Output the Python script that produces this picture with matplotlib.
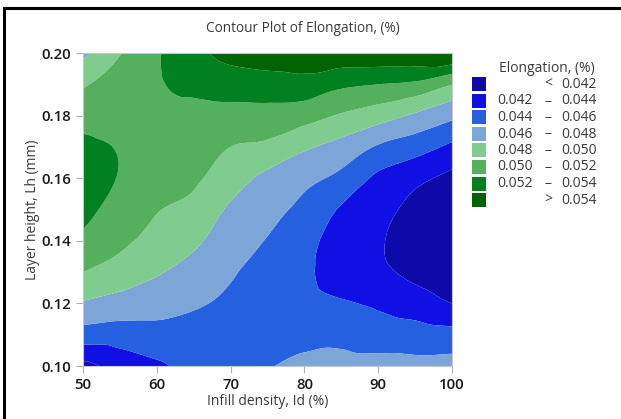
import numpy as np
import matplotlib
matplotlib.use("Agg")
import matplotlib.pyplot as plt
import matplotlib.tri as mtri
from matplotlib.patches import Rectangle

plt.rcParams['font.family'] = ['Open Sans', 'DejaVu Sans']

# Grid of infill density (%) and layer height (mm)
infill = [50, 55, 60, 65, 70, 75, 80, 85, 90, 95, 100]
layer = [0.10, 0.11, 0.12, 0.13, 0.14, 0.15, 0.16, 0.17, 0.18, 0.19, 0.20]

# Elongation (%) per infill column, listed from layer 0.10 up to 0.20
elong_50 = [0.0415, 0.0451, 0.0478, 0.0500, 0.0516, 0.0525, 0.0528, 0.0524, 0.0513, 0.0498, 0.0475]
elong_55 = [0.0428, 0.0450, 0.0472, 0.0492, 0.0504, 0.0513, 0.0519, 0.0519, 0.0512, 0.0507, 0.0499]
elong_60 = [0.0437, 0.0453, 0.0468, 0.0482, 0.0494, 0.0501, 0.0508, 0.0513, 0.0516, 0.0518, 0.0518]
elong_65 = [0.0446, 0.0454, 0.0462, 0.0472, 0.0484, 0.0495, 0.0503, 0.0511, 0.0514, 0.0525, 0.0535]
elong_70 = [0.0455, 0.0455, 0.0457, 0.0462, 0.0468, 0.0477, 0.0489, 0.0500, 0.0513, 0.0530, 0.0546]
elong_75 = [0.0459, 0.0453, 0.0450, 0.0452, 0.0459, 0.0466, 0.0475, 0.0496, 0.0512, 0.0532, 0.0550]
elong_80 = [0.0465, 0.0454, 0.0447, 0.0444, 0.0447, 0.0455, 0.0465, 0.0483, 0.0508, 0.0533, 0.0552]
elong_85 = [0.0466, 0.0455, 0.0442, 0.0429, 0.0430, 0.0438, 0.0455, 0.0473, 0.0498, 0.0524, 0.0554]
elong_90 = [0.0467, 0.0450, 0.0437, 0.0424, 0.0422, 0.0427, 0.0436, 0.0458, 0.0489, 0.0520, 0.0556]
elong_95 = [0.0466, 0.0449, 0.0430, 0.0415, 0.0410, 0.0414, 0.0425, 0.0449, 0.0477, 0.0516, 0.0558]
elong_100 = [0.0468, 0.0447, 0.0420, 0.0405, 0.0398, 0.0402, 0.0415, 0.0436, 0.0465, 0.0501, 0.0562]

columns = [elong_50, elong_55, elong_60, elong_65, elong_70, elong_75,
           elong_80, elong_85, elong_90, elong_95, elong_100]

levels = [0.042, 0.044, 0.046, 0.048, 0.050, 0.052, 0.054]
band_labels = ["<  0.042", "0.042  –  0.044", "0.044  –  0.046", "0.046  –  0.048",
               "0.048  –  0.050", "0.050  –  0.052", "0.052  –  0.054", ">  0.054"]
colors = ["#0E0AA8", "#1010E4", "#2460E0", "#7CA6D8",
          "#80CC8E", "#55B05E", "#00801E", "#006400"]

X, Y = np.meshgrid(infill, layer)
Z = np.array(columns).T
ny, nx = Z.shape

# triangulate the grid (y scaled so cells are roughly square), then refine
yscale = 500.0
tris = []
for j in range(ny - 1):
    for i in range(nx - 1):
        a = j * nx + i
        b = a + 1
        c = a + nx
        d = c + 1
        tris.append([a, b, d])
        tris.append([a, d, c])
tri = mtri.Triangulation(X.ravel(), Y.ravel() * yscale, np.array(tris))
interp = mtri.CubicTriInterpolator(tri, Z.ravel(), kind="geom")
refiner = mtri.UniformTriRefiner(tri)
tri_f, z_f = refiner.refine_field(Z.ravel(), triinterpolator=interp, subdiv=4)
tri_plot = mtri.Triangulation(tri_f.x, tri_f.y / yscale, tri_f.triangles)

W, H = 621, 419
fig = plt.figure(figsize=(W / 100, H / 100), dpi=100)

# outer frame (right and bottom sides fall outside the canvas)
top = 1 - 8.5 / H
fig.add_artist(Rectangle((3.5 / W, -0.1), 2.0, top + 0.1, transform=fig.transFigure,
                         fill=False, edgecolor="black", linewidth=2.2))

ax = fig.add_axes([83 / W, 1 - 366 / H, (452 - 83) / W, (366 - 53) / H])
bounds = [-1] + levels + [1]
ax.tricontourf(tri_plot, z_f, levels=bounds, colors=colors, antialiased=True)

ax.set_xlim(50, 100)
ax.set_ylim(0.10, 0.20)
ax.set_xticks([50, 60, 70, 80, 90, 100])
ax.set_yticks([0.10, 0.12, 0.14, 0.16, 0.18, 0.20])
ax.set_yticklabels(["0.10", "0.12", "0.14", "0.16", "0.18", "0.20"])
for s in ax.spines.values():
    s.set_color("#c8c8c8")
    s.set_linewidth(0.8)
ax.tick_params(colors="#b0b0b0", length=5, width=0.8, labelcolor="#1a1a1a",
               labelsize=10.8)
for lab in ax.get_xticklabels() + ax.get_yticklabels():
    lab.set_fontweight("semibold")

ax.set_xlabel("Infill density, Id (%)", fontsize=10, color="#3a3a3a")
ax.set_ylabel("Layer height, Lh (mm)", fontsize=10, color="#3a3a3a")
ax.xaxis.set_label_coords(0.5, (366 - 394) / (366 - 53))
ax.yaxis.set_label_coords((40 - 83) / (452 - 83), 0.5)
fig.text(303 / W, 1 - 28 / H, "Contour Plot of Elongation, (%)", ha="center",
         va="center", fontsize=9.8, color="#3a3a3a")

# legend
fig.text(547 / W, 1 - 68 / H, "Elongation, (%)", ha="center", va="center",
         fontsize=10, color="#3a3a3a")
row0 = 84.5
step = 16.5
for i, (lab, c) in enumerate(zip(band_labels, colors)):
    yc = row0 + i * step
    fig.add_artist(Rectangle((472 / W, 1 - (yc + 7) / H), 14 / W, 14 / H,
                             transform=fig.transFigure, facecolor=c, edgecolor="none"))
    if lab.startswith("<") or lab.startswith(">"):
        sym, val = lab.split()
        fig.text(548 / W, 1 - yc / H, sym, ha="center", va="center",
                 fontsize=10, color="#3a3a3a")
    else:
        lo, dash, val = lab.split()
        fig.text(497 / W, 1 - yc / H, lo, ha="left", va="center",
                 fontsize=10, color="#3a3a3a")
        fig.text(548 / W, 1 - yc / H, dash, ha="center", va="center",
                 fontsize=10, color="#3a3a3a")
    fig.text(597 / W, 1 - yc / H, val, ha="right", va="center",
             fontsize=10, color="#3a3a3a")

fig.savefig("out.png", dpi=100)
